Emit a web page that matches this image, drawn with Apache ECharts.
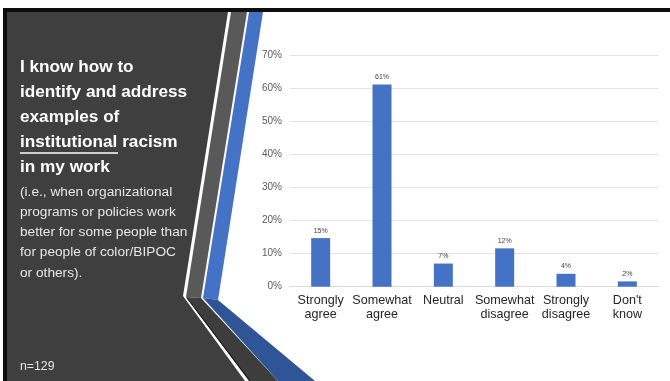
<!DOCTYPE html>
<html>
<head>
<meta charset="utf-8">
<script src="https://cdn.jsdelivr.net/npm/echarts@6/dist/echarts.min.js"></script>
<style>
html,body{margin:0;padding:0;background:#fff;}
#c{width:670px;height:381px;}
</style>
</head>
<body>
<div id="c"></div>
<script>
const categories = ['Strongly\nagree', 'Somewhat\nagree', 'Neutral', 'Somewhat\ndisagree', 'Strongly\ndisagree', "Don't\nknow"];
const values = [14.7, 61.2, 7.0, 11.6, 3.9, 1.6];
const yTicks = { min: 0, max: 70, interval: 10 };
const titleLines = ['I know how to', 'identify and address', 'examples of', 'institutional racism', 'in my work'];
const noteLines = ['(i.e., when organizational', 'programs or policies work', 'better for some people than', 'for people of color/BIPOC', 'or others).'];
const sampleText = 'n=129';

const FONT = '"Liberation Sans", Arial, sans-serif';
const chart = echarts.init(document.getElementById('c'), null, { renderer: 'canvas' });

const graphics = [
  { type: 'rect', shape: { x: 3, y: 8, width: 667, height: 4 }, style: { fill: '#0d0d0d' }, z: 1 },
  { type: 'rect', shape: { x: 3, y: 8, width: 4, height: 373 }, style: { fill: '#0d0d0d' }, z: 1 },
  { type: 'polygon', shape: { points: [[7,12],[228,12],[183,296],[245,381],[7,381]] }, style: { fill: '#3f3f3f' }, z: 1 },
  { type: 'polygon', shape: { points: [[231,12],[247,12],[201,298],[186,297]] }, style: { fill: '#595959' }, z: 1 },
  { type: 'polygon', shape: { points: [[186,297],[201,298],[278,381],[249,381]] }, style: { fill: '#3d3d3d' }, z: 1 },
  { type: 'line', shape: { x1: 187, y1: 298, x2: 250, y2: 381 }, style: { stroke: '#111', lineWidth: 1 }, z: 2 },
  { type: 'polygon', shape: { points: [[249,12],[263,12],[218,300],[203,298]] }, style: { fill: '#4472c4' }, z: 1 },
  { type: 'polygon', shape: { points: [[203,298],[218,300],[315,381],[278,381]] }, style: { fill: '#2f5597' }, z: 1 }
];

titleLines.forEach((t, i) => {
  graphics.push({ type: 'text', left: 20, top: 59 + i * 25, style: { text: t, fill: '#ffffff', font: 'bold 17.2px ' + FONT }, z: 3 });
});
graphics.push({ type: 'rect', shape: { x: 20, y: 152.2, width: 98, height: 1.5 }, style: { fill: '#ffffff' }, z: 3 });
noteLines.forEach((t, i) => {
  graphics.push({ type: 'text', left: 20, top: 184.8 + i * 20.3, style: { text: t, fill: '#e6e6e6', font: '13.7px ' + FONT }, z: 3 });
});
graphics.push({ type: 'text', left: 20, top: 361, style: { text: sampleText, fill: '#e6e6e6', font: '12.3px ' + FONT }, z: 3 });

chart.setOption({
  animation: false,
  backgroundColor: '#ffffff',
  graphic: graphics,
  grid: { left: 290, right: 12, top: 55.3, bottom: 94.3, containLabel: false },
  xAxis: {
    type: 'category',
    data: categories,
    axisTick: { show: false },
    axisLine: { lineStyle: { color: '#d9d9d9' } },
    axisLabel: { interval: 0, fontSize: 12.6, lineHeight: 13.6, color: '#262626', fontFamily: FONT, margin: 7 }
  },
  yAxis: {
    type: 'value',
    min: yTicks.min, max: yTicks.max, interval: yTicks.interval,
    axisLine: { show: false },
    axisTick: { show: false },
    splitLine: { lineStyle: { color: '#e3e3e3' } },
    axisLabel: { formatter: '{value}%', fontSize: 10, color: '#595959', fontFamily: FONT, margin: 8 }
  },
  series: [{
    type: 'bar',
    data: values,
    barWidth: 19,
    itemStyle: { color: '#4472c4' },
    label: { show: true, position: 'top', distance: 4, fontSize: 7, color: '#404040', fontFamily: FONT,
      formatter: p => Math.round(p.value) + '%' }
  }]
});
</script>
</body>
</html>
